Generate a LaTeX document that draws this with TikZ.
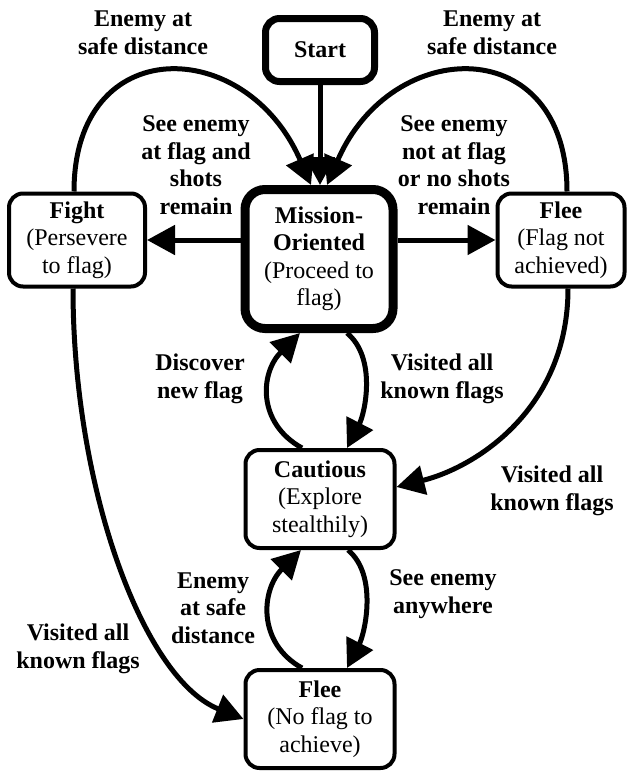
\documentclass[tikz,border=0pt]{standalone}
\usepackage{fontspec}
\setmainfont{Liberation Serif}
\usetikzlibrary{arrows.meta}
\newcommand\diagfont{\fontsize{24}{27.5}\selectfont}
\tikzset{
  statebox/.style={draw, line width=4pt, rounded corners=14pt, align=center, inner sep=0pt},
  trans/.style={line width=5pt, -{Triangle[length=28pt,width=29pt]}},
  lbl/.style={align=center, font=\diagfont\bfseries}
}
\begin{document}
\begin{tikzpicture}[x=1pt, y=-1pt, font=\diagfont]
\useasboundingbox (0,0) rectangle (629,771);
% states
\node[statebox, line width=7pt, minimum width=109pt, minimum height=63pt] (start) at (320,50) {\textbf{Start}};
\node[statebox, line width=9pt, rounded corners=20pt, minimum width=148pt, minimum height=139pt] (mission) at (319,259) {\textbf{Mission-}\\\textbf{Oriented}\\(Proceed to\\flag)};
\node[statebox, minimum width=136pt, minimum height=93pt] (fight) at (77,240) {\textbf{Fight}\\(Persevere\\to flag)};
\node[statebox, minimum width=127pt, minimum height=93pt] (flee) at (561,240) {\textbf{Flee}\\(Flag not\\achieved)};
\node[statebox, minimum width=149pt, minimum height=98pt] (cautious) at (320,499) {\textbf{Cautious}\\(Explore\\stealthily)};
\node[statebox, minimum width=149pt, minimum height=98pt] (fleeb) at (320,719) {\textbf{Flee}\\(No flag to\\achieve)};
% transitions
\draw[trans] (start.south) -- (start.south |- mission.north);
\draw[trans] ([xshift=-3pt]fight.north) .. controls +(0,-160) and +(-65,-150) .. ([xshift=-8pt]mission.north);
\draw[trans] ([xshift=6pt]flee.north) .. controls +(0,-160) and +(65,-150) .. ([xshift=8pt]mission.north);
\draw[trans] (mission.west |- fight.east) -- (fight.east);
\draw[trans] (mission.east |- flee.west) -- (flee.west);
\draw[trans] ([xshift=28pt]mission.south) .. controls +(30,25) and +(18,-35) .. ([xshift=27pt]cautious.north);
\draw[trans] ([xshift=-18pt]cautious.north) .. controls +(-45,-25) and +(-40,40) .. ([xshift=-19pt]mission.south);
\draw[trans] ([xshift=28pt]cautious.south) .. controls +(30,25) and +(18,-35) .. ([xshift=27pt]fleeb.north);
\draw[trans] ([xshift=-18pt]fleeb.north) .. controls +(-45,-25) and +(-40,40) .. ([xshift=-19pt]cautious.south);
\draw[trans] ([xshift=7pt]flee.south) .. controls +(0,120) and +(80,-20) .. ([yshift=12pt]cautious.east);
\draw[trans] ([xshift=-4pt]fight.south) .. controls +(0,200) and +(-100,-40) .. (fleeb.west);
% labels
\node[lbl] (safeleft) at (143,33) {Enemy at\\safe distance};
\node[lbl] (saferight) at (492,33) {Enemy at\\safe distance};
\node[lbl] (seeflag) at (196,165) {See enemy\\at flag and\\shots\\remain};
\node[lbl] (seenotflag) at (454,165) {See enemy\\not at flag\\or no shots\\remain};
\node[lbl] (discover) at (200,379) {Discover\\new flag};
\node[lbl] (visitedmid) at (442,379) {Visited all\\known flags};
\node[lbl] (visitedright) at (552,491) {Visited all\\known flags};
\node[lbl] (safelow) at (213,608) {Enemy\\at safe\\distance};
\node[lbl] (anywhere) at (443,594) {See enemy\\anywhere};
\node[lbl] (visitedleft) at (78,649) {Visited all\\known flags};
\end{tikzpicture}
\end{document}
